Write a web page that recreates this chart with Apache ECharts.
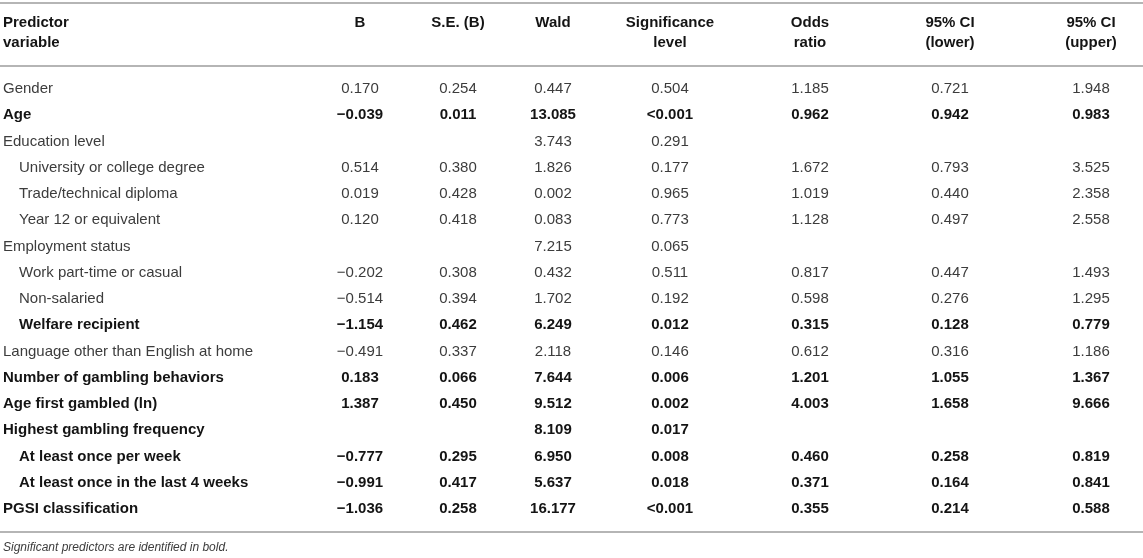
<!DOCTYPE html>
<html>
<head>
<meta charset="utf-8">
<script src="https://cdn.jsdelivr.net/npm/echarts@6/dist/echarts.min.js"></script>
<style>
html, body { margin: 0; padding: 0; background: #fff; }
#main { width: 1143px; height: 558px; }
</style>
</head>
<body>
<div id="main"></div>
<script>
// table content
var rowLabels = ['Gender', 'Age', 'Education level', 'University or college degree', 'Trade/technical diploma',
    'Year 12 or equivalent', 'Employment status', 'Work part-time or casual', 'Non-salaried', 'Welfare recipient',
    'Language other than English at home', 'Number of gambling behaviors', 'Age first gambled (ln)',
    'Highest gambling frequency', 'At least once per week', 'At least once in the last 4 weeks', 'PGSI classification'];
var rowIndent = [0, 0, 0, 1, 1, 1, 0, 1, 1, 1, 0, 0, 0, 0, 1, 1, 0];
var rowBold = [0, 1, 0, 0, 0, 0, 0, 0, 0, 1, 0, 1, 1, 1, 1, 1, 1];
var colHeaders = ['B', 'S.E. (B)', 'Wald', 'Significance\nlevel', 'Odds\nratio', '95% CI\n(lower)', '95% CI\n(upper)'];
var firstHeader = 'Predictor\nvariable';

var bValues = [0.170, -0.039, null, 0.514, 0.019, 0.120, null, -0.202, -0.514, -1.154, -0.491, 0.183, 1.387, null, -0.777, -0.991, -1.036];
var seValues = [0.254, 0.011, null, 0.380, 0.428, 0.418, null, 0.308, 0.394, 0.462, 0.337, 0.066, 0.450, null, 0.295, 0.417, 0.258];
var waldValues = [0.447, 13.085, 3.743, 1.826, 0.002, 0.083, 7.215, 0.432, 1.702, 6.249, 2.118, 7.644, 9.512, 8.109, 6.950, 5.637, 16.177];
var sigValues = ['0.504', '<0.001', '0.291', '0.177', '0.965', '0.773', '0.065', '0.511', '0.192', '0.012', '0.146', '0.006', '0.002', '0.017', '0.008', '0.018', '<0.001'];
var oddsValues = [1.185, 0.962, null, 1.672, 1.019, 1.128, null, 0.817, 0.598, 0.315, 0.612, 1.201, 4.003, null, 0.460, 0.371, 0.355];
var ciLower = [0.721, 0.942, null, 0.793, 0.440, 0.497, null, 0.447, 0.276, 0.128, 0.316, 1.055, 1.658, null, 0.258, 0.164, 0.214];
var ciUpper = [1.948, 0.983, null, 3.525, 2.358, 2.558, null, 1.493, 1.295, 0.779, 1.186, 1.367, 9.666, null, 0.819, 0.841, 0.588];

var footnote = 'Significant predictors are identified in bold.';

// layout
var colX = [360, 458, 553, 670, 810, 950, 1091];
var ruleY = [3, 66, 532];
var FONT = '"Liberation Sans", Arial, Helvetica, sans-serif';
var normalColor = '#3c3c3c';
var boldColor = '#141414';
var ruleColor = '#b5b5b5';

function fmt(v) {
    if (v === null) return '';
    return (v < 0 ? '\u2212' : '') + Math.abs(v).toFixed(3);
}

var columns = [bValues.map(fmt), seValues.map(fmt), waldValues.map(fmt), sigValues,
    oddsValues.map(fmt), ciLower.map(fmt), ciUpper.map(fmt)];

var cells = [];
columns.forEach(function (col, c) {
    col.forEach(function (txt, r) {
        if (txt !== '') cells.push({ col: c, row: r, text: txt });
    });
});

var myChart = echarts.init(document.getElementById('main'));

var graphics = [];
ruleY.forEach(function (y) {
    graphics.push({
        type: 'line',
        shape: { x1: 0, y1: y, x2: 1143, y2: y },
        style: { stroke: ruleColor, lineWidth: 2 },
        silent: true
    });
});
graphics.push({
    type: 'text', x: 3, y: 13,
    style: { text: firstHeader, font: 'bold 15px ' + FONT, fill: boldColor, lineHeight: 20, align: 'left', verticalAlign: 'top' }
});
colHeaders.forEach(function (h, i) {
    graphics.push({
        type: 'text', x: colX[i], y: 13,
        style: { text: h, font: 'bold 15px ' + FONT, fill: boldColor, lineHeight: 20, align: 'center', verticalAlign: 'top' }
    });
});
graphics.push({
    type: 'text', x: 3, y: 548,
    style: { text: footnote, font: 'italic 12px ' + FONT, fill: normalColor, align: 'left', verticalAlign: 'middle' }
});

myChart.setOption({
    animation: false,
    grid: { left: 0, right: 0, top: 76, height: 446, containLabel: false, outerBoundsMode: 'none' },
    xAxis: {
        type: 'value', min: 0, max: 1143,
        show: false
    },
    yAxis: {
        type: 'category',
        inverse: true,
        data: rowLabels,
        axisLine: { show: false },
        axisTick: { show: false },
        splitLine: { show: false },
        axisLabel: {
            interval: 0,
            align: 'left',
            margin: -3,
            formatter: function (value, index) {
                var key = (rowBold[index] ? 'b' : 'n') + (rowIndent[index] ? 'i' : '');
                return '{' + key + '|' + value + '}';
            },
            rich: {
                n: { fontFamily: FONT, fontSize: 15, color: normalColor },
                b: { fontFamily: FONT, fontSize: 15, fontWeight: 'bold', color: boldColor },
                ni: { fontFamily: FONT, fontSize: 15, color: normalColor, padding: [0, 0, 0, 16] },
                bi: { fontFamily: FONT, fontSize: 15, fontWeight: 'bold', color: boldColor, padding: [0, 0, 0, 16] }
            }
        }
    },
    graphic: graphics,
    series: [{
        type: 'custom',
        clip: false,
        encode: { x: 0, y: 1 },
        data: cells.map(function (c) { return [colX[c.col], c.row]; }),
        renderItem: function (params, api) {
            var cell = cells[params.dataIndex];
            var p = api.coord([api.value(0), api.value(1)]);
            var bold = rowBold[cell.row];
            return {
                type: 'text',
                x: p[0],
                y: p[1],
                style: {
                    text: cell.text,
                    font: (bold ? 'bold ' : '') + '15px ' + FONT,
                    fill: bold ? boldColor : normalColor,
                    align: 'center',
                    verticalAlign: 'middle'
                }
            };
        }
    }]
});
</script>
</body>
</html>
